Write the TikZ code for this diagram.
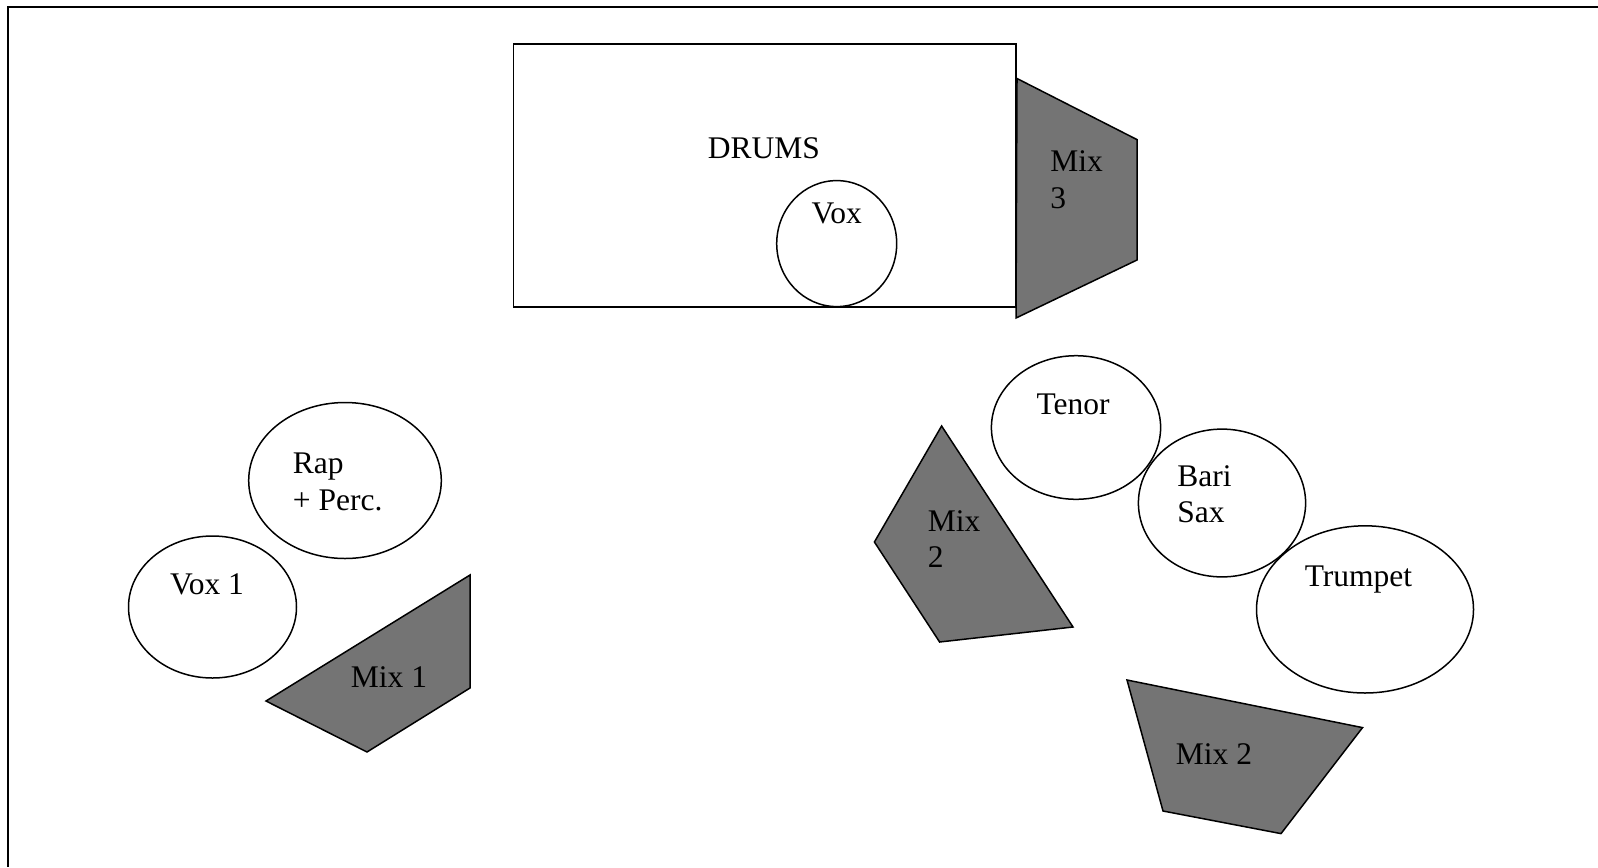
\documentclass[tikz,border=0pt]{standalone}
\usepackage{fontspec}
\setmainfont{Liberation Serif}
\definecolor{mixgray}{RGB}{116,116,116}
\begin{document}
\begin{tikzpicture}[x=0.5pt,y=-0.5pt,
  outline/.style={draw=black,line width=0.75pt},
  mixshape/.style={outline,fill=mixgray,line join=miter},
  lbl/.style={inner sep=0pt,font=\fontsize{15.75}{18.4}\selectfont},
  lbll/.style={lbl,align=left,anchor=west}]
\useasboundingbox (0,0) rectangle (1598,867);
\fill[white] (0,0) rectangle (1598,867);
% outer frame (only top and left edges visible)
\draw[line width=1.2pt] (1598,7) -- (8,7) -- (8,867);
% drums riser
\draw[outline] (513.6,43.8) rectangle (1016,306.8);
\node[lbl] (drums) at (764,148) {DRUMS};
\draw[outline] (836.7,243.6) ellipse [x radius=60, y radius=63];
\node[lbl] (vox) at (836.7,213) {Vox};
% Mix 3
\draw[mixshape] (1017,78.5) -- (1137,139.6) -- (1137,260) -- (1016,318) -- cycle;
\node[lbll] (mix3) at (1050,179.5) {Mix\\3};
% left group
\draw[outline] (345,480.5) ellipse [x radius=96.3, y radius=78];
\node[lbll] (rap) at (292.5,482) {Rap\\+ Perc.};
\draw[outline] (212.5,607) ellipse [x radius=84, y radius=71];
\node[lbl] (vox1) at (207,584) {Vox 1};
\draw[mixshape] (266,701) -- (470,575) -- (470,688) -- (367,752) -- cycle;
\node[lbl] (mix1) at (389,677) {Mix 1};
% right group
\draw[outline] (1076,427.5) ellipse [x radius=84.6, y radius=71.8];
\node[lbl] (tenor) at (1073,404.6) {Tenor};
\draw[outline] (1222,503) ellipse [x radius=83.6, y radius=73.9];
\node[lbll] (bari) at (1177,494.3) {Bari\\Sax};
\draw[outline] (1365,609.4) ellipse [x radius=108.5, y radius=83.6];
\node[lbl] (trumpet) at (1358.5,580) {Trumpet};
\draw[mixshape] (941.6,426) -- (1073,627) -- (939.6,642) -- (874.4,542) -- cycle;
\node[lbll] (mix2a) at (927.5,539) {Mix\\2};
\draw[mixshape] (1127,680) -- (1362.5,727.6) -- (1281,833.6) -- (1163,811) -- cycle;
\node[lbl] (mix2b) at (1214,754) {Mix 2};
\end{tikzpicture}
\end{document}
